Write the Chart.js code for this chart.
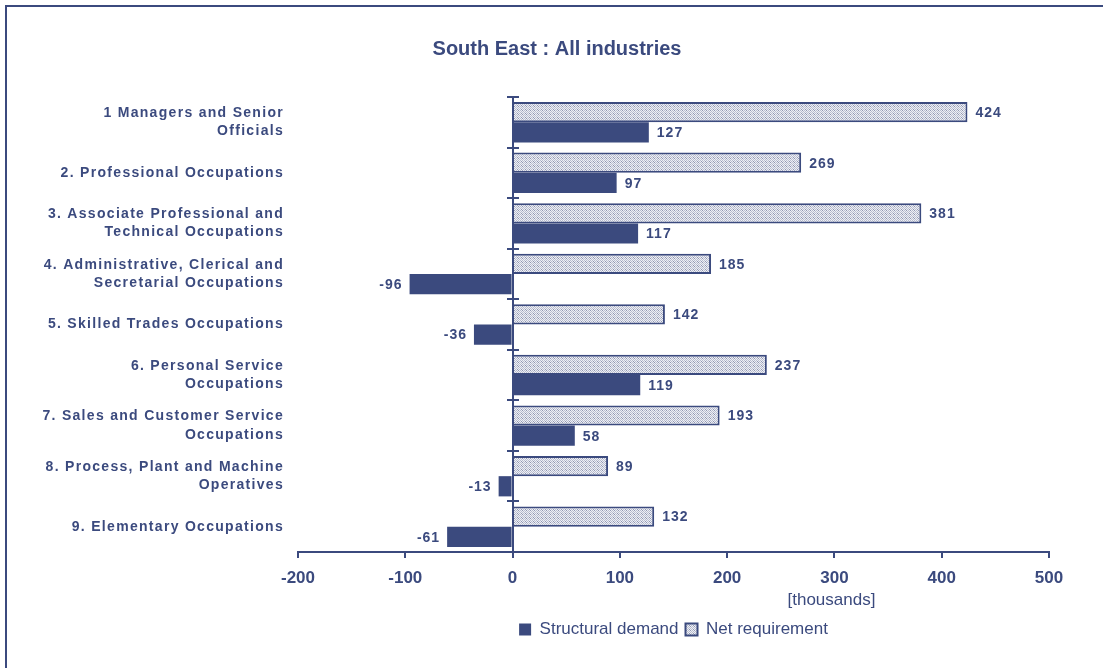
<!DOCTYPE html>
<html>
<head>
<meta charset="utf-8">
<title>South East : All industries</title>
<script src="https://cdn.jsdelivr.net/npm/chart.js@4.4.1/dist/chart.umd.min.js"></script>
<style>
  html, body { margin: 0; padding: 0; background: #fff; }
  #wrap { position: relative; width: 1103px; height: 668px; overflow: hidden; }
  #frame {
    position: absolute; left: 5px; top: 5px; width: 1100px; height: 700px;
    border-top: 2px solid #3b4a7e; border-left: 2px solid #3b4a7e;
  }
  #chart { position: absolute; left: 0; top: 0; }
</style>
</head>
<body>
<div id="wrap">
  <div id="frame"></div>
  <canvas id="chart" width="1103" height="668"></canvas>
</div>
<script>
// occupations, top to bottom
const occupations = [
    ['1 Managers and Senior', 'Officials'],
    '2. Professional Occupations',
    ['3. Associate Professional and', 'Technical Occupations'],
    ['4. Administrative, Clerical and', 'Secretarial Occupations'],
    '5. Skilled Trades Occupations',
    ['6. Personal Service', 'Occupations'],
    ['7. Sales and Customer Service', 'Occupations'],
    ['8. Process, Plant and Machine', 'Operatives'],
    '9. Elementary Occupations'
];
// thousands of jobs
const netRequirement = [424, 269, 381, 185, 142, 237, 193, 89, 132];
const structuralDemand = [127, 97, 117, -96, -36, 119, 58, -13, -61];
const xTicks = [-200, -100, 0, 100, 200, 300, 400, 500];

const NAVY = '#3b4a7e';
const FONT = '"Liberation Sans", Arial, sans-serif';

// stippled grey fill for the net requirement bars
function stipple() {
    const c = document.createElement('canvas');
    c.width = 4; c.height = 4;
    const g = c.getContext('2d');
    g.fillStyle = '#eef0f5';
    g.fillRect(0, 0, 4, 4);
    g.fillStyle = '#b9bdcf';
    [[0, 0], [2, 0], [1, 1], [3, 1], [0, 2], [2, 2], [1, 3], [3, 3]].forEach(([x, y]) => g.fillRect(x, y, 1, 1));
    g.fillStyle = '#9197b2';
    g.fillRect(1, 1, 1, 1);
    g.fillRect(2, 2, 1, 1);
    return g.createPattern(c, 'repeat');
}

// category labels are spread out a little
const spacedLabels = {
    id: 'spacedLabels',
    beforeDraw(chart) {
        const scale = chart.scales.y;
        if (scale._spaced) return;
        const draw = scale.drawLabels;
        scale.drawLabels = function (area) {
            this.ctx.save();
            this.ctx.letterSpacing = '1.3px';
            draw.call(this, area);
            this.ctx.restore();
        };
        scale._spaced = true;
    }
};

// vertical axis through zero with marks between categories
const zeroAxis = {
    id: 'zeroAxis',
    afterDatasetsDraw(chart) {
        const { ctx, chartArea, scales: { x, y } } = chart;
        const x0 = Math.round(x.getPixelForValue(0));
        ctx.save();
        ctx.strokeStyle = NAVY;
        ctx.lineWidth = 2;
        ctx.beginPath();
        ctx.moveTo(x0, chartArea.top);
        ctx.lineTo(x0, chartArea.bottom);
        for (let i = 0; i <= occupations.length; i++) {
            const py = Math.round(y.getPixelForValue(i - 0.5));
            ctx.moveTo(x0 - 6, py);
            ctx.lineTo(x0 + 6, py);
        }
        ctx.stroke();
        ctx.restore();
    }
};

// value at the end of each bar, plus the unit under the axis
const barValues = {
    id: 'barValues',
    afterDatasetsDraw(chart) {
        const ctx = chart.ctx;
        ctx.save();
        ctx.fillStyle = NAVY;
        ctx.font = 'bold 14px ' + FONT;
        ctx.letterSpacing = '1px';
        ctx.textBaseline = 'middle';
        chart.data.datasets.forEach((ds, i) => {
            chart.getDatasetMeta(i).data.forEach((bar, j) => {
                const v = ds.data[j];
                if (v >= 0) {
                    ctx.textAlign = 'left';
                    ctx.fillText(String(v), bar.x + 8, bar.y + 1);
                } else {
                    ctx.textAlign = 'right';
                    ctx.fillText(String(v), bar.x - 7, bar.y + 1);
                }
            });
        });
        ctx.letterSpacing = '0px';
        ctx.font = '17px ' + FONT;
        ctx.textAlign = 'center';
        ctx.fillText('[thousands]', chart.scales.x.getPixelForValue(300) - 3, 600);
        ctx.restore();
    }
};

new Chart(document.getElementById('chart'), {
    type: 'bar',
    data: {
        labels: occupations,
        datasets: [
            {
                label: 'Net requirement',
                data: netRequirement,
                backgroundColor: stipple(),
                borderColor: NAVY,
                borderWidth: 2,
                borderSkipped: 'start'
            },
            {
                label: 'Structural demand',
                data: structuralDemand,
                backgroundColor: NAVY,
                borderColor: NAVY,
                borderWidth: 0
            }
        ]
    },
    options: {
        indexAxis: 'y',
        responsive: false,
        animation: false,
        events: [],
        categoryPercentage: 0.8,
        barPercentage: 1.0,
        layout: { padding: { left: 14, right: 3, top: 10, bottom: 20 } },
        plugins: {
            title: {
                display: true,
                text: 'South East : All industries',
                color: NAVY,
                font: { family: FONT, size: 20, weight: 'bold' },
                padding: { top: 27, bottom: 36 }
            },
            legend: {
                position: 'bottom',
                fullSize: false,
                reverse: true,
                labels: {
                    color: NAVY,
                    font: { family: FONT, size: 17 },
                    boxWidth: 12,
                    boxHeight: 12,
                    padding: 7
                }
            },
            tooltip: { enabled: false }
        },
        scales: {
            x: {
                type: 'linear',
                min: -200,
                max: 500,
                afterBuildTicks: s => { s.ticks = xTicks.map(v => ({ value: v })); },
                afterFit: s => { s.height = 62; s.paddingLeft = 0; s.paddingRight = 0; },
                border: { display: true, color: NAVY, width: 2 },
                grid: { display: true, drawOnChartArea: false, drawTicks: true, tickLength: 6, color: NAVY, lineWidth: 2 },
                ticks: { color: NAVY, padding: 10, font: { family: FONT, size: 17, weight: 'bold' } }
            },
            y: {
                afterFit: s => { s.width = 284; s.paddingTop = 0; s.paddingBottom = 0; },
                border: { display: false },
                grid: { display: false, drawTicks: false },
                ticks: {
                    color: NAVY,
                    padding: 14,
                    font: { family: FONT, size: 14, weight: 'bold', lineHeight: 1.3 }
                }
            },
            // empty strip on the right, keeps the plot clear of the frame
            gutter: {
                type: 'linear',
                axis: 'y',
                position: 'right',
                afterFit: s => { s.width = 51; },
                border: { display: false },
                grid: { display: false, drawTicks: false },
                ticks: { display: false }
            }
        }
    },
    plugins: [spacedLabels, zeroAxis, barValues]
});
</script>
</body>
</html>
